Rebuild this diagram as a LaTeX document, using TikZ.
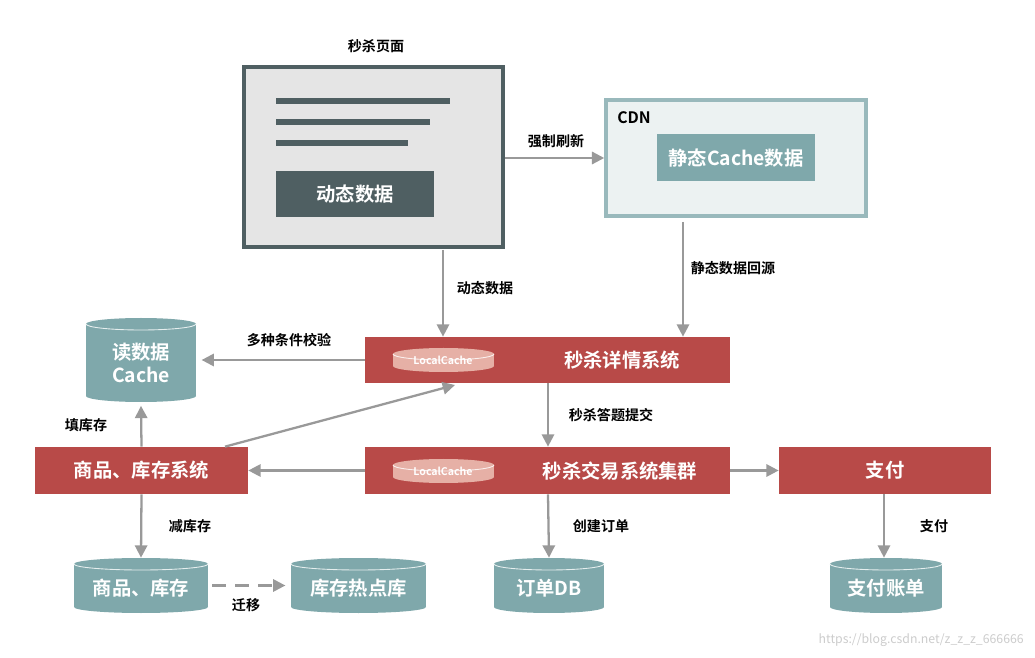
\documentclass[tikz,border=0pt]{standalone}
\usepackage{fontspec}
\setmainfont{Noto Sans CJK SC}[BoldFont=Noto Sans CJK SC Bold]
\usetikzlibrary{arrows.meta}
\definecolor{redb}{HTML}{B84A48}
\definecolor{teal}{HTML}{7FA8AB}
\definecolor{dark}{HTML}{4F5F62}
\definecolor{arr}{HTML}{999999}
\definecolor{lc}{HTML}{E6B0A6}
\tikzset{
 ar/.style={draw=arr,line width=1.3pt,-{Triangle[length=7pt,width=7pt]}},
 lbl/.style={font=\fontsize{8}{9}\selectfont\bfseries,text=black},
 sys/.style={fill=redb,text=white,font=\fontsize{11}{12}\selectfont\bfseries,inner sep=0},
}
\newcommand{\mycyl}[7]{% name x1 y1 x2 y2 text fill
 \pgfmathsetmacro{\cx}{(#2+#4)/2}\pgfmathsetmacro{\rx}{(#4-#2)/2}
 \fill[#7] (#2,#3+6) rectangle (#4,#5-6);
 \fill[#7] (\cx,#5-6) ellipse [x radius=\rx, y radius=6];
 \fill[#7] (\cx,#3+6) ellipse [x radius=\rx, y radius=6];
 \draw[white!80!#7,line width=0.5pt] (#2,#3+6) arc[start angle=180,end angle=360,x radius=\rx,y radius=-6];
 \node[inner sep=0,minimum width={(#4-#2)*0.02cm},minimum height={(#5-#3)*0.02cm}] (#1) at (\cx,{(#3+#5)/2}) {};
 \node[inner sep=0] at (\cx,{(#3+#5)/2+3}) {#6};
}
\begin{document}
\begin{tikzpicture}[x=0.02cm,y=-0.02cm]
\useasboundingbox (0,0) rectangle (1035,658);
% page
\node[lbl] (pt) at (376,46) {秒杀页面};
\node[draw=dark,line width=2pt,fill=gray!20,minimum width=259*0.02cm,minimum height=180*0.02cm,inner sep=0] (page) at (373.5,157) {};
\foreach \y/\e in {101/450,122/430,143/408} \draw[dark,line width=3pt] (276,\y) -- (\e,\y);
\node[fill=dark,text=white,font=\fontsize{11}{12}\selectfont\bfseries,minimum width=158*0.02cm,minimum height=46*0.02cm,inner sep=0] (dyn) at (355,194) {动态数据};
% CDN
\node[draw=teal!80,line width=2pt,fill=teal!15,minimum width=260*0.02cm,minimum height=116*0.02cm,inner sep=0] (cdn) at (736,158) {};
\node[lbl,font=\fontsize{9}{10}\selectfont\bfseries] (cdnl) at (634,118) {CDN};
\node[fill=teal,text=white,font=\fontsize{11}{12}\selectfont\bfseries,minimum width=158*0.02cm,minimum height=47*0.02cm,inner sep=0] (stc) at (736,158) {静态Cache数据};
% systems
\node[sys,minimum width=365*0.02cm,minimum height=46*0.02cm] (detail) at (547.5,360) {};
\node[font=\fontsize{11}{12}\selectfont\bfseries,text=white] (detailt) at (622,360) {秒杀详情系统};
\node[sys,minimum width=365*0.02cm,minimum height=47*0.02cm] (trade) at (547.5,470.5) {};
\node[font=\fontsize{11}{12}\selectfont\bfseries,text=white] (tradet) at (620,471) {秒杀交易系统集群};
\node[sys,minimum width=213*0.02cm,minimum height=47*0.02cm] (goods) at (141.5,470.5) {商品、库存系统};
\node[sys,minimum width=212*0.02cm,minimum height=47*0.02cm] (pay) at (885,470.5) {支付};
% local caches
\begin{scope}[font=\fontsize{6}{7}\selectfont\bfseries,text=white]
\mycyl{lc1}{393}{348}{494}{372}{}{lc}
\node at (443,360) {LocalCache};
\mycyl{lc2}{393}{459}{494}{483}{}{lc}
\node at (443,471) {LocalCache};
\end{scope}
% cylinders
\begin{scope}[text=white,font=\fontsize{11}{13}\selectfont\bfseries]
\mycyl{rc}{86}{318}{196}{402}{\shortstack{读数据\\Cache}}{teal}
\mycyl{gdb}{74}{558}{208}{613}{商品、库存}{teal}
\mycyl{hot}{291}{558}{426}{613}{库存热点库}{teal}
\mycyl{odb}{494}{558}{604}{613}{订单DB}{teal}
\mycyl{pdb}{830}{558}{942}{613}{支付账单}{teal}
\end{scope}
% arrows
\draw[ar] (page.east|-0,158) -- (cdn.west|-0,158);
\node[lbl] (l1) at (556,141) {强制刷新};
\draw[ar] (443,250) -- (detail.north-|443,0);
\node[lbl] (l2) at (485,288) {动态数据};
\draw[ar] (683,222) -- (detail.north-|683,0);
\node[lbl] (l3) at (733,268) {静态数据回源};
\draw[ar] (detail.west) -- ([xshift=3pt]rc.east|-detail.west);
\node[lbl] (l4) at (289,340) {多种条件校验};
\draw[ar] (goods.north) -- ([yshift=-2pt]rc.south);
\node[lbl] (l5) at (86,425) {填库存};
\draw[ar] (goods.north-|225,0) -- (455,385);
\draw[ar] (trade.west) -- (goods.east);
\draw[ar] (detail.south-|548,0) -- (trade.north-|548,0);
\node[lbl] (l6) at (611,415) {秒杀答题提交};
\draw[ar] (trade.east) -- (pay.west);
\draw[ar] (goods.south) -- (gdb.north);
\node[lbl] (l7) at (190,526) {减库存};
\draw[ar,dashed,dash pattern=on 8pt off 5pt] (gdb.east) ++(4,0) -- ([xshift=-3pt]hot.west);
\node[lbl] (l8) at (246,605) {迁移};
\draw[ar] (trade.south-|548,0) -- (odb.north);
\node[lbl] (l9) at (601,526) {创建订单};
\draw[ar] (pay.south-|884,0) -- (pdb.north-|884,0);
\node[lbl] (l10) at (934,526) {支付};
\node[font=\fontsize{7}{8}\selectfont,text=gray!40,anchor=east] (wm) at (1030,640) {https://blog.csdn.net/z\_z\_z\_666666};
\end{tikzpicture}
\end{document}
